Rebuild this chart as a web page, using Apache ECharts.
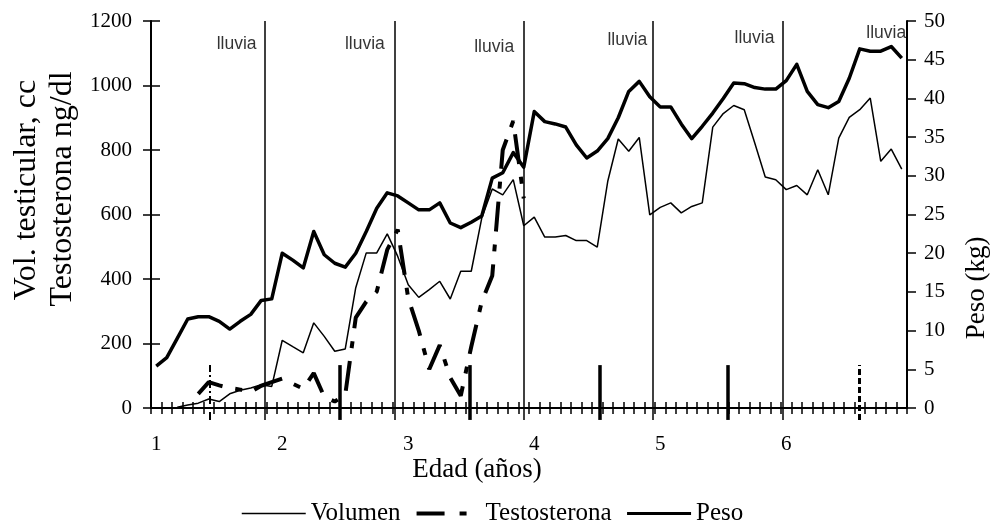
<!DOCTYPE html>
<html><head><meta charset="utf-8">
<script src="https://cdn.jsdelivr.net/npm/echarts@6/dist/echarts.min.js"></script>
<style>html,body{margin:0;padding:0;background:#fff}#c{width:994px;height:529px}</style>
</head><body><div id="c"></div><script>
// Age tick labels (years), one per 12 monthly categories
const ageLabels = ['1', '2', '3', '4', '5', '6'];
// Monthly series (72 months)
const volumen = [null, null, 2, 9, 15, 28, 20, 44, 55, 62, 72, 67,
  210, 190, 171, 264, 222, 176, 183, 373, 481, 481, 540, 470,
  382, 343, 367, 393, 338, 424, 424, 589, 679, 661, 708, 565,
  592, 530, 530, 535, 519, 519, 499, 703, 834, 796, 839, 599,
  622, 636, 605, 625, 636, 871, 913, 938, 925, 822, 716, 708,
  677, 690, 661, 739, 661, 837, 901, 925, 961, 765, 803, 741];
const testosterona = [null, null, null, null, 44, 80, 70, 62, 57, 50, 69, 80,
  91, 75, 60, 108, 35, 20, 41, 280, 330, 361, 491, 553,
  340, 240, 120, 195, 94, 38, 190, 330, 410, 800, 890, 650,
  null, null, null, null, null, null, null, null, null, null, null, null,
  null, null, null, null, null, null, null, null, null, null, null, null,
  null, null, null, null, null, null, null, null, null, null, null, null];
const peso = [5.4, 6.5, 9.0, 11.5, 11.8, 11.8, 11.2, 10.2, 11.2, 12.1, 13.9, 14.1,
  20.0, 19.1, 18.1, 22.8, 19.8, 18.7, 18.2, 20.0, 22.8, 25.8, 27.8, 27.4,
  26.5, 25.6, 25.6, 26.5, 23.9, 23.3, 24.0, 24.8, 29.7, 30.4, 33.0, 31.1,
  38.3, 37.0, 36.7, 36.3, 34.0, 32.3, 33.2, 34.8, 37.5, 40.9, 42.2, 40.2,
  38.9, 38.9, 36.7, 34.8, 36.4, 38.1, 40.0, 42.0, 41.9, 41.4, 41.2, 41.2,
  42.3, 44.4, 40.9, 39.2, 38.8, 39.6, 42.6, 46.4, 46.1, 46.1, 46.7, 45.2];
// Season annotations (month units along the axis, left-axis units vertically)
const rainLines = [10.87, 23.19, 35.49, 47.82, 60.21];
const seasonNames = ['sequía', 'lluvia', 'lluvia', 'lluvia', 'lluvia', 'lluvia', 'lluvia'];
const seasonX = [-0.32, 10.1, 22.31, 34.63, 47.31, 59.42, 71.97];
const seasonY = [1042, 1127, 1129, 1119, 1142, 1147, 1163];
const eventX = [5.56, 17.95, 30.34, 42.74, 54.97, 67.45];
const eventTop = 133, baseBottom = -37, axisTop = 1200;

const months = volumen.map((_, i) => 'm' + i);
const serif = 'Liberation Serif';
const black = '#000';
const clear = 'rgba(0,0,0,0)';

const chart = echarts.init(document.getElementById('c'));

const eventStyles = [
  {color: black, width: 2, type: [8, 3, 2, 3]},
  {color: black, width: 3.5, type: 'solid'},
  {color: black, width: 3.5, type: 'solid'},
  {color: black, width: 3.5, type: 'solid'},
  {color: black, width: 3.5, type: 'solid'},
  {color: black, width: 3, type: [6, 3]}
];
const markData = [];
rainLines.forEach(x => markData.push([
  {coord: [x, baseBottom], lineStyle: {color: black, width: 1.5, type: 'solid'}},
  {coord: [x, axisTop]}
]));
eventX.forEach((x, i) => markData.push([
  {coord: [x, baseBottom], lineStyle: eventStyles[i]},
  {coord: [x, eventTop]}
]));

const volStyle = {color: black, width: 1.5};
const testoStyle = {color: black, width: 4, type: [30, 13, 7, 13], cap: 'butt'};
const pesoStyle = {color: black, width: 3.5, join: 'round'};
const tickStyle = {color: black, width: 1.5};
const plotBox = {left: 151, top: 21, width: 756, height: 387};
const option = {
  animation: false,
  backgroundColor: '#fff',
  grid: [
    Object.assign({}, plotBox),
    Object.assign({}, plotBox, {height: plotBox.height * (axisTop - baseBottom) / axisTop}),
    Object.assign({}, plotBox)
  ],
  legend: {
    left: 236, top: 496,
    itemWidth: 64, itemHeight: 2, itemGap: 14,
    itemStyle: {opacity: 0},
    textStyle: {fontFamily: serif, fontSize: 25, color: black},
    data: [
      {name: 'Volumen', lineStyle: volStyle},
      {name: 'Testosterona', lineStyle: {color: black, width: 4, type: [28, 15, 7, 15], cap: 'butt'}},
      {name: 'Peso', lineStyle: {color: black, width: 3}}
    ]
  },
  graphic: [
    {type: 'text', x: 27, y: 190, rotation: Math.PI / 2,
      style: {text: 'Vol. testicular, cc', font: '32px "Liberation Serif"', fill: black, align: 'center', verticalAlign: 'middle'}},
    {type: 'text', x: 63, y: 189, rotation: Math.PI / 2,
      style: {text: 'Testosterona ng/dl', font: '32px "Liberation Serif"', fill: black, align: 'center', verticalAlign: 'middle'}},
    {type: 'text', x: 977, y: 288, rotation: Math.PI / 2,
      style: {text: 'Peso (kg)', font: '27px "Liberation Serif"', fill: black, align: 'center', verticalAlign: 'middle'}},
    {type: 'text', x: 477, y: 470,
      style: {text: 'Edad (años)', font: '27px "Liberation Serif"', fill: black, align: 'center', verticalAlign: 'middle'}}
  ],
  xAxis: [
    {type: 'category', gridIndex: 0, data: months, position: 'bottom', boundaryGap: true,
      axisLine: {show: true, lineStyle: {color: black, width: 2}},
      axisTick: {show: true, interval: 0, length: 6, lineStyle: tickStyle},
      axisLabel: {interval: 0, formatter: (v, i) => (i % 12 === 0 ? ageLabels[i / 12] : ''),
        color: black, fontFamily: serif, fontSize: 21, margin: 26},
      splitLine: {show: false}},
    {type: 'category', gridIndex: 0, data: months, position: 'bottom', offset: 0, boundaryGap: true,
      axisLine: {show: true, lineStyle: {color: clear, width: 1}},
      axisTick: {show: true, interval: 0, inside: true, length: 6, lineStyle: tickStyle},
      axisLabel: {show: false}, splitLine: {show: false}},
    {type: 'value', gridIndex: 1, min: 0, max: 72, show: false},
    {type: 'value', gridIndex: 2, min: 0, max: 72, show: false}
  ],
  yAxis: [
    {type: 'value', gridIndex: 0, position: 'left', min: 0, max: 1200, interval: 200,
      axisLine: {show: true, lineStyle: {color: black, width: 2}},
      axisTick: {show: true, length: 8, lineStyle: tickStyle},
      axisLabel: {color: black, fontFamily: serif, fontSize: 21, margin: 19, formatter: v => String(v)},
      splitLine: {show: false}},
    {type: 'value', gridIndex: 0, position: 'right', min: 0, max: 50, interval: 5,
      axisLine: {show: true, lineStyle: {color: black, width: 2}},
      axisTick: {show: true, length: 9, lineStyle: tickStyle},
      axisLabel: {color: black, fontFamily: serif, fontSize: 21, margin: 17, formatter: v => String(v)},
      splitLine: {show: false}},
    {type: 'value', gridIndex: 2, position: 'left', min: 0, max: 1200, interval: 200,
      axisLine: {show: true, lineStyle: {color: clear, width: 1}},
      axisTick: {show: true, inside: true, length: 9, lineStyle: tickStyle},
      axisLabel: {show: false}, splitLine: {show: false}},
    {type: 'value', gridIndex: 1, min: baseBottom, max: axisTop, show: false}
  ],
  series: [
    {name: 'Volumen', type: 'line', xAxisIndex: 0, yAxisIndex: 0, data: volumen,
      symbol: 'none', lineStyle: volStyle, itemStyle: {color: black}, z: 3},
    {name: 'Testosterona', type: 'line', xAxisIndex: 0, yAxisIndex: 0, data: testosterona,
      symbol: 'none', lineStyle: testoStyle, itemStyle: {color: black}, z: 3},
    {name: 'Peso', type: 'line', xAxisIndex: 0, yAxisIndex: 1, data: peso,
      symbol: 'none', lineStyle: pesoStyle, itemStyle: {color: black}, z: 4},
    {type: 'scatter', xAxisIndex: 2, yAxisIndex: 3, silent: true, symbolSize: 1,
      itemStyle: {color: clear},
      data: seasonX.map((x, i) => ({name: seasonNames[i], value: [x, seasonY[i]],
        label: {position: i === 0 ? 'right' : 'left'}})),
      label: {show: true, formatter: '{b}', distance: 0, color: black,
        fontFamily: 'Liberation Sans', fontSize: 17.5},
      markLine: {silent: true, symbol: ['none', 'none'], label: {show: false},
        emphasis: {disabled: true}, data: markData},
      z: 2},
    {type: 'scatter', xAxisIndex: 3, yAxisIndex: 2, silent: true, data: []}
  ]
};
chart.setOption(option);
</script></body></html>
